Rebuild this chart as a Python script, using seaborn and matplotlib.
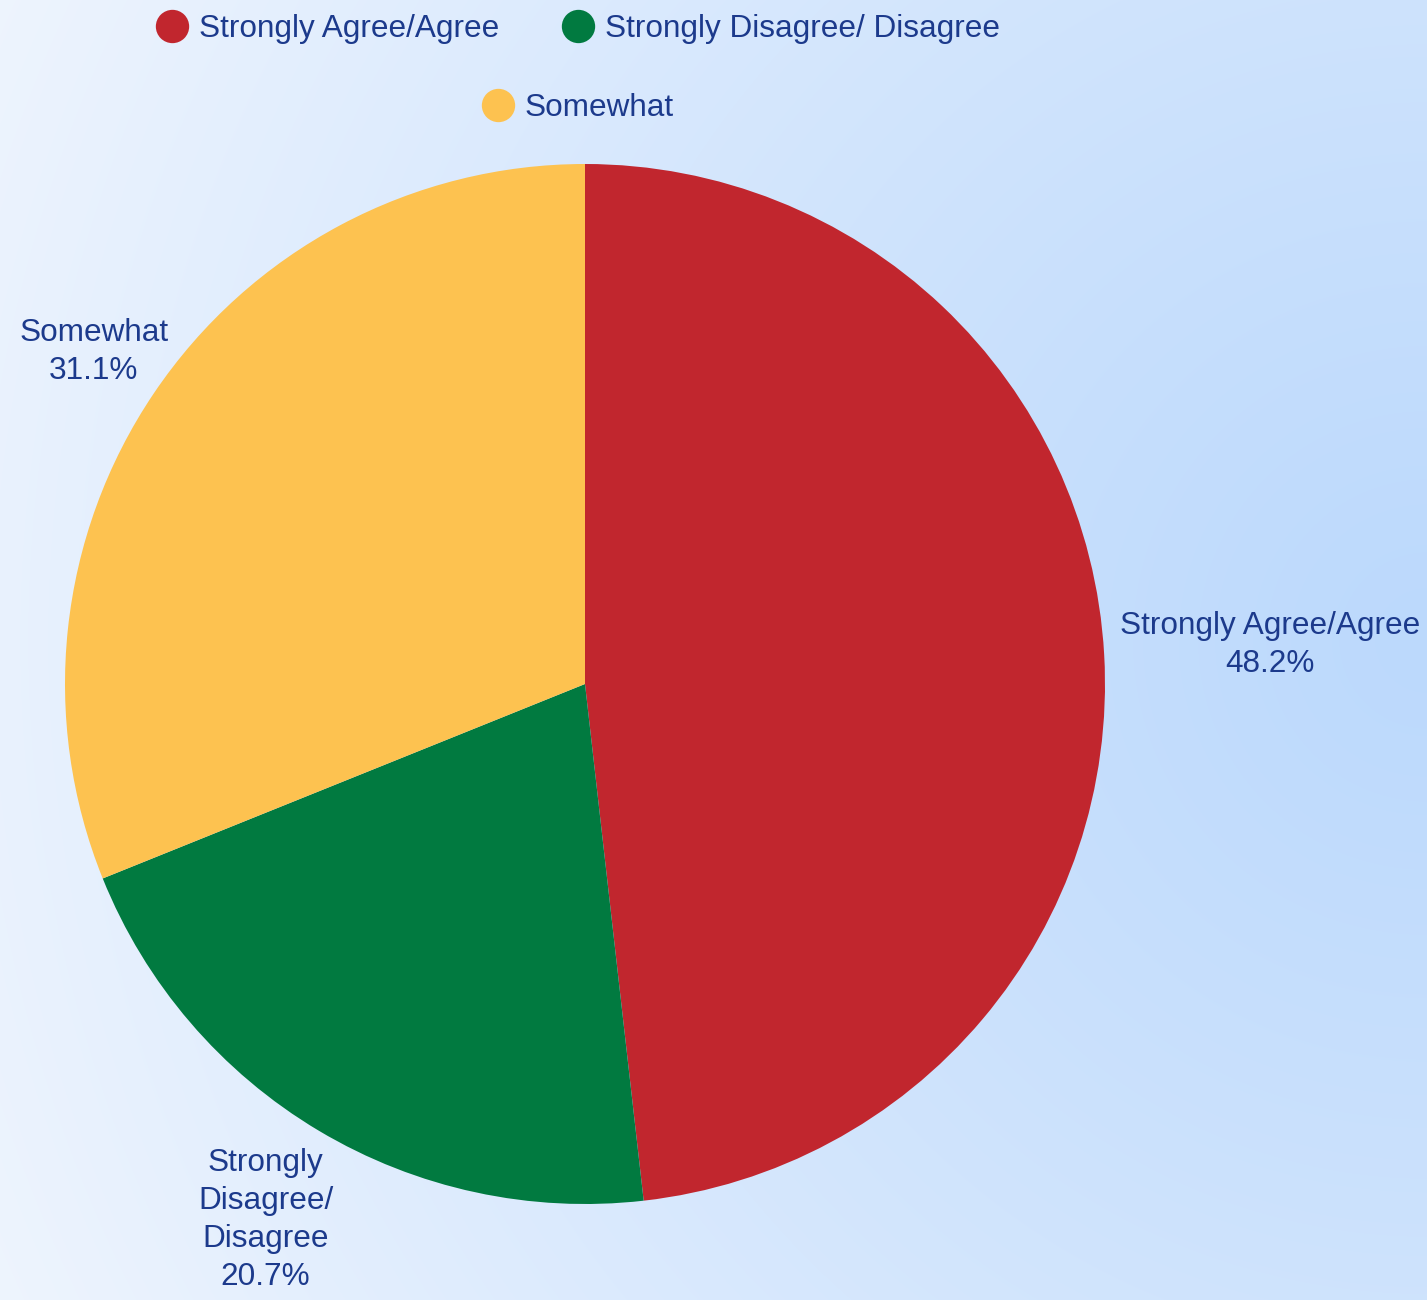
import numpy as np
import matplotlib
matplotlib.use("Agg")
import matplotlib.pyplot as plt
from matplotlib.lines import Line2D
from matplotlib.colors import to_rgb
import seaborn as sns

# Survey response shares (%)
categories = ["Strongly Agree/Agree", "Strongly Disagree/ Disagree", "Somewhat"]
slice_labels = ["Strongly Agree/Agree", "Strongly\nDisagree/\nDisagree", "Somewhat"]
values = [48.2, 20.7, 31.1]
slice_colors = ["#c1262e", "#017a40", "#fdc250"]

label_distance = [1.32, 1.2, 1.14]
text_color = "#1c3a8c"

sns.set_theme(style="white")
plt.rcParams["font.family"] = ["Liberation Sans", "DejaVu Sans"]
palette = sns.color_palette(slice_colors)

W, H, DPI = 1427, 1300, 100
fig = plt.figure(figsize=(W / DPI, H / DPI), dpi=DPI)

# soft blue radial backdrop
bg = fig.add_axes([0, 0, 1, 1], zorder=0)
yy, xx = np.mgrid[0:H, 0:W]
d = np.hypot(xx - 1427, yy - 640) / 1600.0
d = np.clip(d, 0, 1) ** 1.15
c0 = np.array(to_rgb("#bcd9fc"))
c1 = np.array(to_rgb("#eff5fe"))
img = c0[None, None, :] * (1 - d[..., None]) + c1[None, None, :] * d[..., None]
bg.imshow(img, aspect="auto", extent=[0, W, H, 0])
bg.set_axis_off()

# pie axes: centre (585, 684) px, radius 520 px
cx, cy, R = 585, 684, 520
ax = fig.add_axes([(cx - R) / W, (H - cy - R) / H, 2 * R / W, 2 * R / H], zorder=1)
ax.patch.set_alpha(0)
wedges, _ = ax.pie(values, colors=palette, startangle=90, counterclock=False,
                   radius=1, wedgeprops=dict(linewidth=0))
ax.set_xlim(-1, 1)
ax.set_ylim(-1, 1)
ax.set_axis_off()

FS = 22.7
for w, lab, v, dist in zip(wedges, slice_labels, values, label_distance):
    ang = np.deg2rad((w.theta1 + w.theta2) / 2)
    x, y = dist * np.cos(ang), dist * np.sin(ang)
    ax.text(x, y, f"{lab}\n{v:.1f}%", ha="center", va="center",
            multialignment="center", color=text_color, fontsize=FS,
            linespacing=1.35)

def handle(c):
    return Line2D([], [], marker="o", linestyle="none", markersize=24,
                  markerfacecolor=c, markeredgewidth=0)

leg_kw = dict(frameon=False, fontsize=FS, labelcolor=text_color,
              handletextpad=0.35, columnspacing=2.0, handlelength=1.0,
              borderaxespad=0)
leg1 = fig.legend([handle(palette[0]), handle(palette[1])], categories[:2],
                  loc="center", bbox_to_anchor=(578 / W, 1 - 29 / H), ncol=2, **leg_kw)
leg2 = fig.legend([handle(palette[2])], categories[2:],
                  loc="center", bbox_to_anchor=(578 / W, 1 - 108 / H), ncol=1, **leg_kw)

fig.savefig("out.png", dpi=DPI)
